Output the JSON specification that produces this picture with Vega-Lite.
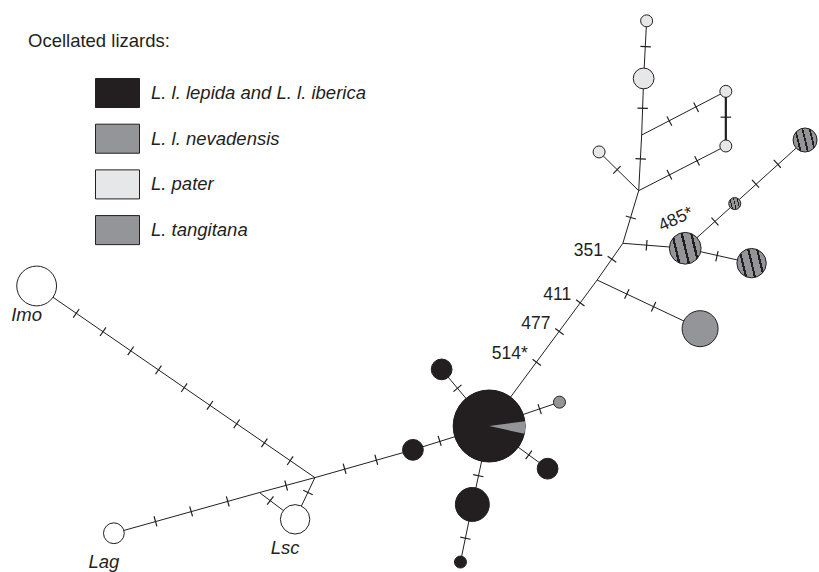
{
  "$schema": "https://vega.github.io/schema/vega-lite/v6.json",
  "width": 819,
  "height": 572,
  "padding": 0,
  "autosize": {"type": "fit", "contains": "padding"},
  "background": "#ffffff",
  "config": {"view": {"stroke": null}, "font": "Liberation Sans"},
  "datasets": {
    "nodes": [
      {"id": "imo", "x": 37, "y": 288, "n": 11, "taxon": "Outgroup", "label": "Imo"},
      {"id": "lag", "x": 115, "y": 537, "n": 3, "taxon": "Outgroup", "label": "Lag"},
      {"id": "lsc", "x": 298, "y": 523, "n": 6, "taxon": "Outgroup", "label": "Lsc"},
      {"id": "j1", "x": 318, "y": 481, "n": 0},
      {"id": "j2", "x": 262, "y": 496, "n": 0},
      {"id": "b1", "x": 417, "y": 453, "n": 3, "taxon": "L. l. lepida and L. l. iberica"},
      {"id": "big", "x": 494, "y": 429, "n": 36, "taxon": "L. l. lepida and L. l. iberica"},
      {"id": "b2", "x": 446, "y": 372, "n": 3, "taxon": "L. l. lepida and L. l. iberica"},
      {"id": "b3", "x": 553, "y": 472, "n": 3, "taxon": "L. l. lepida and L. l. iberica"},
      {"id": "b4", "x": 477, "y": 508, "n": 8, "taxon": "L. l. lepida and L. l. iberica"},
      {"id": "b5", "x": 465, "y": 566, "n": 1, "taxon": "L. l. lepida and L. l. iberica"},
      {"id": "g1", "x": 565, "y": 405, "n": 1, "taxon": "L. tangitana"},
      {"id": "j3", "x": 603, "y": 282, "n": 0},
      {"id": "tang", "x": 707, "y": 331, "n": 9, "taxon": "L. tangitana"},
      {"id": "j4", "x": 629, "y": 245, "n": 0},
      {"id": "nevA", "x": 692, "y": 250, "n": 7, "taxon": "L. l. nevadensis"},
      {"id": "nevB", "x": 759, "y": 265, "n": 6, "taxon": "L. l. nevadensis"},
      {"id": "nevS", "x": 742, "y": 205, "n": 1, "taxon": "L. l. nevadensis"},
      {"id": "nevC", "x": 813, "y": 141, "n": 4, "taxon": "L. l. nevadensis"},
      {"id": "j5", "x": 645, "y": 192, "n": 0},
      {"id": "pL", "x": 605, "y": 153, "n": 1, "taxon": "L. pater"},
      {"id": "pRL", "x": 733, "y": 147, "n": 1, "taxon": "L. pater"},
      {"id": "j6", "x": 648, "y": 136, "n": 0},
      {"id": "pRU", "x": 733, "y": 92, "n": 1, "taxon": "L. pater"},
      {"id": "pM", "x": 650, "y": 79, "n": 3, "taxon": "L. pater"},
      {"id": "pT", "x": 653, "y": 21, "n": 1, "taxon": "L. pater"}
    ],
    "edges": [
      {"source": "imo", "target": "j1"},
      {"source": "lag", "target": "j2"},
      {"source": "j2", "target": "j1"},
      {"source": "j2", "target": "lsc"},
      {"source": "lsc", "target": "j1"},
      {"source": "j1", "target": "b1"},
      {"source": "b1", "target": "big"},
      {"source": "b2", "target": "big"},
      {"source": "b3", "target": "big"},
      {"source": "b4", "target": "big"},
      {"source": "b4", "target": "b5"},
      {"source": "g1", "target": "big"},
      {"source": "big", "target": "j3"},
      {"source": "j3", "target": "tang"},
      {"source": "j3", "target": "j4"},
      {"source": "j4", "target": "nevA"},
      {"source": "nevA", "target": "nevB"},
      {"source": "nevA", "target": "nevS"},
      {"source": "nevS", "target": "nevC"},
      {"source": "j4", "target": "j5"},
      {"source": "j5", "target": "pL"},
      {"source": "j5", "target": "pRL"},
      {"source": "j5", "target": "j6"},
      {"source": "j6", "target": "pRU"},
      {"source": "pRU", "target": "pRL"},
      {"source": "j6", "target": "pM"},
      {"source": "pM", "target": "pT"}
    ],
    "mutations": [
      {"source": "imo", "target": "j1", "x": 77, "y": 315.5},
      {"source": "imo", "target": "j1", "x": 104, "y": 334},
      {"source": "imo", "target": "j1", "x": 132, "y": 353.3},
      {"source": "imo", "target": "j1", "x": 160, "y": 372.5},
      {"source": "imo", "target": "j1", "x": 186, "y": 390.4},
      {"source": "imo", "target": "j1", "x": 212, "y": 408.2},
      {"source": "imo", "target": "j1", "x": 239, "y": 426.8},
      {"source": "imo", "target": "j1", "x": 267, "y": 446},
      {"source": "imo", "target": "j1", "x": 293, "y": 463.9},
      {"source": "lag", "target": "j2", "x": 157, "y": 525},
      {"source": "lag", "target": "j2", "x": 193, "y": 515},
      {"source": "lag", "target": "j2", "x": 230, "y": 505},
      {"source": "j2", "target": "j1", "x": 289, "y": 489},
      {"source": "j2", "target": "lsc", "x": 273, "y": 504},
      {"source": "lsc", "target": "j1", "x": 311, "y": 496},
      {"source": "j1", "target": "b1", "x": 348, "y": 472},
      {"source": "j1", "target": "b1", "x": 380, "y": 463},
      {"source": "b1", "target": "big", "x": 444, "y": 444},
      {"source": "b2", "target": "big", "x": 462, "y": 391},
      {"source": "b3", "target": "big", "x": 534, "y": 458},
      {"source": "b4", "target": "big", "x": 483, "y": 479},
      {"source": "b4", "target": "b5", "x": 470, "y": 542},
      {"source": "g1", "target": "big", "x": 545, "y": 412},
      {"source": "big", "target": "j3", "x": 542, "y": 365, "site": "514*"},
      {"source": "big", "target": "j3", "x": 565, "y": 334, "site": "477"},
      {"source": "big", "target": "j3", "x": 586, "y": 305, "site": "411"},
      {"source": "j3", "target": "tang", "x": 633, "y": 296},
      {"source": "j3", "target": "tang", "x": 660, "y": 309},
      {"source": "j3", "target": "j4", "x": 618, "y": 261, "site": "351"},
      {"source": "j4", "target": "nevA", "x": 653, "y": 247},
      {"source": "nevA", "target": "nevB", "x": 724, "y": 258},
      {"source": "nevA", "target": "nevS", "x": 722, "y": 223, "site": "485*"},
      {"source": "nevS", "target": "nevC", "x": 763, "y": 185},
      {"source": "nevS", "target": "nevC", "x": 785, "y": 165},
      {"source": "j4", "target": "j5", "x": 637, "y": 219},
      {"source": "j5", "target": "pL", "x": 623, "y": 171},
      {"source": "j5", "target": "pRL", "x": 676, "y": 176},
      {"source": "j5", "target": "pRL", "x": 704, "y": 162},
      {"source": "j5", "target": "j6", "x": 647, "y": 160},
      {"source": "j6", "target": "pRU", "x": 676, "y": 122},
      {"source": "j6", "target": "pRU", "x": 703, "y": 108},
      {"source": "pRU", "target": "pRL", "x": 733, "y": 118},
      {"source": "j6", "target": "pM", "x": 649, "y": 109},
      {"source": "pM", "target": "pT", "x": 652, "y": 47}
    ],
    "composition": [
      {"node": "big", "taxon": "L. l. lepida and L. l. iberica", "n": 34},
      {"node": "big", "taxon": "L. tangitana", "n": 2}
    ]
  },
  "layer": [
    {
      "data": {"name": "edges"},
      "transform": [
        {"lookup": "source", "from": {"data": {"name": "nodes"}, "key": "id", "fields": ["x", "y"]}},
        {"lookup": "target", "from": {"data": {"name": "nodes"}, "key": "id", "fields": ["x", "y"]}, "as": ["x2", "y2"]}
      ],
      "mark": {"type": "rule", "stroke": "#231f20"},
      "encoding": {
        "x": {"field": "x", "type": "quantitative", "scale": {"domain": [0, 819], "nice": false, "zero": false}, "axis": null},
        "y": {"field": "y", "type": "quantitative", "scale": {"domain": [0, 572], "nice": false, "zero": false, "reverse": true}, "axis": null},
        "x2": {"field": "x2"},
        "y2": {"field": "y2"},
        "strokeWidth": {"condition": {"test": "datum.source === 'pRU' && datum.target === 'pRL'", "value": 2.2}, "value": 1}
      }
    },
    {
      "data": {"name": "mutations"},
      "transform": [
        {"lookup": "source", "from": {"data": {"name": "nodes"}, "key": "id", "fields": ["x", "y"]}, "as": ["sx", "sy"]},
        {"lookup": "target", "from": {"data": {"name": "nodes"}, "key": "id", "fields": ["x", "y"]}, "as": ["tx", "ty"]},
        {"calculate": "atan2(datum.ty - datum.sy, datum.tx - datum.sx) * 180 / PI + 90", "as": "tickAngle"}
      ],
      "mark": {"type": "point", "shape": "M-1,0H1", "filled": false, "stroke": "#231f20", "strokeWidth": 1.2, "size": 110, "opacity": 1},
      "encoding": {
        "x": {"field": "x", "type": "quantitative", "axis": null},
        "y": {"field": "y", "type": "quantitative", "axis": null},
        "angle": {"field": "tickAngle", "type": "quantitative", "scale": null}
      }
    },
    {
      "data": {"name": "nodes"},
      "transform": [{"filter": "datum.n > 0"}],
      "mark": {"type": "point", "shape": "circle", "filled": true, "opacity": 1, "stroke": "#231f20", "strokeWidth": 1},
      "encoding": {
        "x": {"field": "x", "type": "quantitative", "axis": null},
        "y": {"field": "y", "type": "quantitative", "axis": null},
        "size": {"field": "n", "type": "quantitative", "scale": {"type": "linear", "domain": [0, 36], "range": [0, 5184]}, "legend": null},
        "fill": {
          "condition": {
            "test": "datum.taxon === 'L. l. nevadensis'",
            "value": {
              "gradient": "linear", "x1": 0, "y1": 0.62, "x2": 1, "y2": 0.38,
              "stops": [
                {"offset": 0, "color": "#939598"},
                {"offset": 0.18, "color": "#939598"},
                {"offset": 0.18, "color": "#231f20"},
                {"offset": 0.25, "color": "#231f20"},
                {"offset": 0.25, "color": "#939598"},
                {"offset": 0.465, "color": "#939598"},
                {"offset": 0.465, "color": "#231f20"},
                {"offset": 0.535, "color": "#231f20"},
                {"offset": 0.535, "color": "#939598"},
                {"offset": 0.75, "color": "#939598"},
                {"offset": 0.75, "color": "#231f20"},
                {"offset": 0.82, "color": "#231f20"},
                {"offset": 0.82, "color": "#939598"},
                {"offset": 1, "color": "#939598"}
              ]
            }
          },
          "field": "taxon",
          "type": "nominal",
          "scale": {
            "domain": ["L. l. lepida and L. l. iberica", "L. l. nevadensis", "L. pater", "L. tangitana", "Outgroup"],
            "range": ["#231f20", "#939598", "#e6e7e8", "#939598", "#ffffff"]
          },
          "legend": {
            "values": ["L. l. lepida and L. l. iberica", "L. l. nevadensis", "L. pater", "L. tangitana"],
            "orient": "none",
            "legendX": 28,
            "legendY": 32,
            "padding": 0,
            "title": "Ocellated lizards:",
            "titleFont": "Liberation Sans",
            "titleFontSize": 18.5,
            "titleFontWeight": "normal",
            "titleColor": "#231f20",
            "titlePadding": 20,
            "symbolType": "M-1,-0.66H1V0.66H-1Z",
            "symbolSize": 1936,
            "symbolStrokeColor": "#231f20",
            "symbolStrokeWidth": 1,
            "symbolOffset": 67,
            "labelFont": "Liberation Sans",
            "labelFontSize": 18.5,
            "labelFontStyle": "italic",
            "labelColor": "#231f20",
            "labelOffset": 11,
            "labelLimit": 400,
            "rowPadding": 5.7
          }
        }
      }
    },
    {
      "data": {"name": "composition"},
      "transform": [
        {"lookup": "node", "from": {"data": {"name": "nodes"}, "key": "id", "fields": ["x", "y"]}}
      ],
      "mark": {"type": "arc", "outerRadius": 36},
      "encoding": {
        "x": {"field": "x", "type": "quantitative", "axis": null},
        "y": {"field": "y", "type": "quantitative", "axis": null},
        "theta": {"field": "n", "type": "quantitative", "stack": true, "scale": {"range": [1.78896, 8.07214]}},
        "order": {"field": "taxon", "type": "nominal"},
        "fill": {"field": "taxon", "type": "nominal", "legend": null}
      }
    },
    {
      "data": {"name": "mutations"},
      "transform": [{"filter": "datum.site && datum.site !== '485*'"}],
      "mark": {"type": "text", "align": "right", "baseline": "middle", "dx": -9, "dy": -8, "fontSize": 17.5, "font": "Liberation Sans", "color": "#231f20"},
      "encoding": {
        "x": {"field": "x", "type": "quantitative", "axis": null},
        "y": {"field": "y", "type": "quantitative", "axis": null},
        "text": {"field": "site"}
      }
    },
    {
      "data": {"name": "mutations"},
      "transform": [{"filter": "datum.site === '485*'"}],
      "mark": {"type": "text", "align": "center", "baseline": "middle", "angle": 335, "dx": -34.5, "dy": -18.3, "fontSize": 17.5, "font": "Liberation Sans", "color": "#231f20"},
      "encoding": {
        "x": {"field": "x", "type": "quantitative", "axis": null},
        "y": {"field": "y", "type": "quantitative", "axis": null},
        "text": {"field": "site"}
      }
    },
    {
      "data": {"name": "nodes"},
      "transform": [{"filter": "datum.label"}],
      "mark": {"type": "text", "align": "center", "baseline": "middle", "dx": -10, "dy": 29, "fontSize": 18.5, "fontStyle": "italic", "font": "Liberation Sans", "color": "#231f20"},
      "encoding": {
        "x": {"field": "x", "type": "quantitative", "axis": null},
        "y": {"field": "y", "type": "quantitative", "axis": null},
        "text": {"field": "label"}
      }
    }
  ]
}
